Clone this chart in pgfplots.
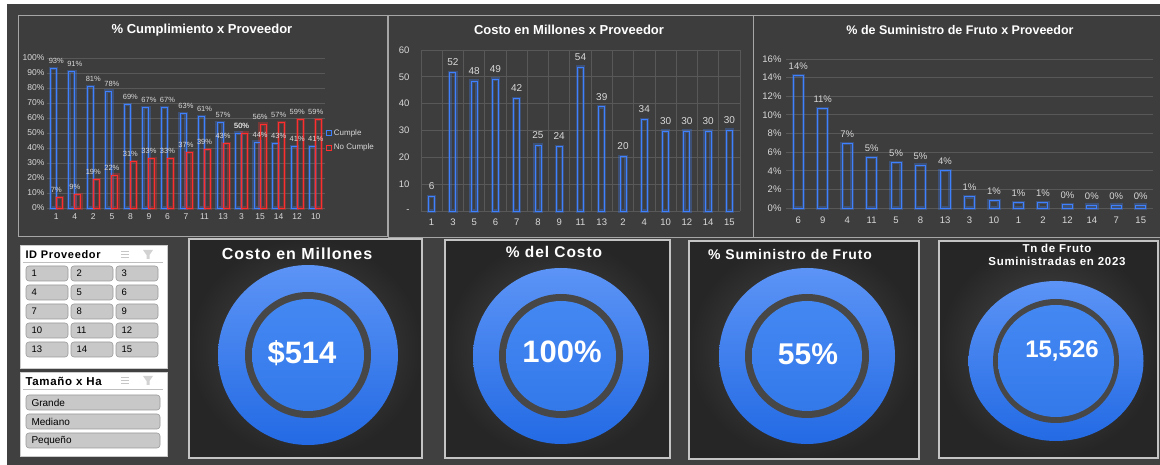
\documentclass[border=0pt]{standalone}
\usepackage{fontspec}
\setmainfont{Liberation Sans}
\newfontfamily\spaced[LetterSpace=6]{Liberation Sans}
\usepackage{pgfplots}
\usepackage{pgfplotstable}
\pgfplotsset{compat=1.18}

\definecolor{bgdark}{HTML}{404040}
\definecolor{panel}{HTML}{3D3D3D}
\definecolor{panelline}{HTML}{A6A6A6}
\definecolor{gridc}{HTML}{585858}
\definecolor{tickc}{HTML}{D9D9D9}
\definecolor{barblue}{HTML}{3F80FF}
\definecolor{barred}{HTML}{FF2E2E}
\definecolor{cardin}{HTML}{4E4E4E}
\definecolor{cardout}{HTML}{262626}
\definecolor{cardline}{HTML}{C4C4C4}
\definecolor{donuttop}{HTML}{5C94F6}
\definecolor{donutbot}{HTML}{236AE4}
\definecolor{ringdark}{HTML}{474747}
\definecolor{innertop}{HTML}{4388F2}
\definecolor{innerbot}{HTML}{3479EA}
\definecolor{btn}{HTML}{C8C8C8}
\definecolor{btnline}{HTML}{9A9A9A}

\newcommand\fs[1]{\fontsize{#1}{#1}\selectfont}

% chart 1: % cumple / no cumple
\pgfplotstableread{
idx prov cumple nocumple
0 1 93 7
1 4 91 9
2 2 81 19
3 5 78 22
4 8 69 31
5 9 67 33
6 6 67 33
7 7 63 37
8 11 61 39
9 13 57 43
10 3 50 50
11 15 44 56
12 14 43 57
13 12 41 59
14 10 41 59
}\tblcump

% chart 2: costo en millones
\pgfplotstableread{
idx prov costo
0 1 5.5
1 3 51.6
2 5 48.4
3 6 49.2
4 7 42.0
5 8 24.6
6 9 24.1
7 11 53.6
8 13 38.8
9 2 20.3
10 4 34.2
11 10 29.8
12 12 29.8
13 14 29.8
14 15 30.2
}\tblcosto

% chart 3: % suministro de fruto
\pgfplotstableread{
idx prov sumin
0 6 14.2
1 9 10.7
2 4 6.9
3 11 5.4
4 5 4.9
5 8 4.6
6 13 4.0
7 3 1.2
8 10 0.8
9 1 0.6
10 2 0.6
11 12 0.4
12 14 0.3
13 7 0.3
14 15 0.3
}\tblsumin

\pgfplotsset{
  dashax/.style={
    scale only axis, anchor=south west, clip=false,
    axis line style={draw=none}, major tick length=0pt, minor tick length=0pt,
    ymajorgrids, grid style={gridc, line width=0.8pt},
    ticklabel style={text=tickc},
    /pgf/number format/assume math mode=true,
    xmin=-0.5, xmax=14.5, ymin=0, xtick={0,...,14},
  },
  glow/.style={ybar, fill=none, draw=#1, line width=3.4pt, draw opacity=0.3, forget plot},
  sqlegend/.style={legend image code/.code={\draw[##1, line width=0.7pt] (0pt,-2.5pt) rectangle (5pt,2.5pt);}},
}

\begin{document}
\begin{tikzpicture}[x=1pt,y=1pt]
\useasboundingbox (0,0) rectangle (1160,465);
\fill[white] (0,0) rectangle (1160,465);
\fill[bgdark] (7,0) rectangle (1160,461);

% chart panels
\filldraw[fill=panel, draw=panelline, line width=0.8pt] (18,229) rectangle (387,450);
\filldraw[fill=panel, draw=panelline, line width=0.8pt] (388,228) rectangle (753,450);
\filldraw[fill=panel, draw=panelline, line width=0.8pt] (753,228) rectangle (1166,450);
\node[text=white, font=\bfseries\fs{13}] at (202,435) {\% Cumplimiento x Proveedor};
\node[text=white, font=\bfseries\fs{13}] at (569,435) {Costo en Millones x Proveedor};
\node[text=white, font=\bfseries\fs{12.5}] at (960,435) {\% de Suministro de Fruto x Proveedor};

% chart 1
\begin{axis}[dashax, at={(47pt,257pt)}, width=278pt, height=150pt,
  ymax=100, ytick={0,10,...,100}, yticklabel={\pgfmathprintnumber{\tick}\%},
  xticklabels from table={\tblcump}{prov},
  ticklabel style={font=\fs{8.5}},
  xticklabel style={yshift=-2pt}, yticklabel style={xshift=1pt},
  legend style={at={(rel axis cs:1.0,0.45)}, anchor=west, draw=none, fill=none,
    font=\fs{8}, text=tickc, row sep=3pt, inner sep=1pt},
  legend cell align=left]
\addplot[glow=barblue, bar width=6pt, bar shift=-3pt] table[x=idx,y=cumple]{\tblcump};
\addplot[glow=barred, bar width=6pt, bar shift=3pt] table[x=idx,y=nocumple]{\tblcump};
\addplot[ybar, bar width=6pt, bar shift=-3pt, fill=none, draw=barblue, line width=0.9pt, sqlegend,
  nodes near coords={\pgfmathprintnumber[fixed,precision=0]{\pgfplotspointmeta}\%},
  every node near coord/.append style={font=\fs{7.5}, text=tickc, yshift=1pt}]
  table[x=idx,y=cumple]{\tblcump};
\addlegendentry{Cumple}
\addplot[ybar, bar width=6pt, bar shift=3pt, fill=none, draw=barred, line width=0.9pt, sqlegend,
  nodes near coords={\pgfmathprintnumber[fixed,precision=0]{\pgfplotspointmeta}\%},
  every node near coord/.append style={font=\fs{7.5}, text=tickc, yshift=1pt}]
  table[x=idx,y=nocumple]{\tblcump};
\addlegendentry{No Cumple}
\end{axis}

% chart 2
\begin{axis}[dashax, at={(421pt,254pt)}, width=319pt, height=161pt,
  ymax=60, ytick={0,10,...,60}, yticklabels={-,10,20,30,40,50,60},
  xticklabels from table={\tblcosto}{prov},
  minor xtick={-0.5,0.5,...,14.5}, xminorgrids, minor grid style={gridc, line width=0.8pt},
  ticklabel style={font=\fs{9.5}},
  xticklabel style={yshift=-4pt}, yticklabel style={xshift=-8pt}]
\addplot[glow=barblue, bar width=6pt] table[x=idx,y=costo]{\tblcosto};
\addplot[ybar, bar width=6pt, fill=none, draw=barblue, line width=0.9pt,
  nodes near coords={\pgfmathprintnumber[fixed,precision=0]{\pgfplotspointmeta}},
  every node near coord/.append style={font=\fs{10}, text=tickc, yshift=3pt}]
  table[x=idx,y=costo]{\tblcosto};
\end{axis}

% chart 3
\begin{axis}[dashax, at={(786pt,257pt)}, width=367pt, height=149pt,
  ymax=16, ytick={0,2,...,16}, yticklabel={\pgfmathprintnumber{\tick}\%},
  xticklabels from table={\tblsumin}{prov},
  ticklabel style={font=\fs{9.5}},
  xticklabel style={yshift=-5pt}, yticklabel style={xshift=-1pt}]
\addplot[glow=barblue, bar width=10pt] table[x=idx,y=sumin]{\tblsumin};
\addplot[ybar, bar width=10pt, fill=none, draw=barblue, line width=0.9pt,
  nodes near coords={\pgfmathprintnumber[fixed,precision=0]{\pgfplotspointmeta}\%},
  every node near coord/.append style={font=\fs{9.5}, text=tickc, yshift=2pt}]
  table[x=idx,y=sumin]{\tblsumin};
\end{axis}

% slicer: ID Proveedor
\filldraw[fill=white, draw=gray!40] (20,97) rectangle (167,220);
\node[anchor=west, font=\spaced\bfseries\fs{11}] at (22,210) {ID Proveedor};
\draw[gray!50, line width=0.8pt] (23,203) -- (163,203);
\foreach \r in {0,...,4} {
  \foreach \c in {0,1,2} {
    \pgfmathsetmacro\xl{26+45*\c}
    \pgfmathsetmacro\yt{199-19*\r}
    \pgfmathtruncatemacro\n{3*\r+\c+1}
    \draw[rounded corners=3pt, fill=btn, draw=btnline, line width=0.6pt] (\xl,\yt) rectangle ++(42,-15);
    \node[anchor=west, font=\fs{9.5}] at (\xl+2,\yt-7.5) {\n};
  }
}
% icons
\foreach \k in {0,1,2} {\draw[gray!45, line width=0.7pt] (121,214-3*\k) -- (129,214-3*\k);}
\fill[gray!35] (143,215) -- (153,215) -- (149.5,210) -- (149.5,206) -- (146.5,206) -- (146.5,210) -- cycle;

% slicer: Tamano x Ha
\filldraw[fill=white, draw=gray!40] (20,9) rectangle (167,93);
\node[anchor=west, font=\spaced\bfseries\fs{11.5}] at (22,84) {Tamaño x Ha};
\draw[gray!50, line width=0.8pt] (23,76) -- (163,76);
\foreach \k in {0,1,2} {\draw[gray!45, line width=0.7pt] (121,88-3*\k) -- (129,88-3*\k);}
\fill[gray!35] (143,89) -- (153,89) -- (149.5,84) -- (149.5,80) -- (146.5,80) -- (146.5,84) -- cycle;
\foreach \t [count=\i from 0] in {Grande,Mediano,Pequeño} {
  \pgfmathsetmacro\yt{70-19*\i}
  \draw[rounded corners=3pt, fill=btn, draw=btnline, line width=0.6pt] (26,\yt) rectangle (160,\yt-15);
  \node[anchor=west, font=\fs{10}] at (28,\yt-7.5) {\t};
}

% KPI cards
\shade[inner color=cardin, outer color=cardout] (189,7) rectangle (422,226);
\draw[cardline, line width=1.2pt] (189,7) rectangle (422,226);
\shade[inner color=cardin, outer color=cardout] (445,7) rectangle (670,225);
\draw[cardline, line width=1.2pt] (445,7) rectangle (670,225);
\shade[inner color=cardin, outer color=cardout] (689,6) rectangle (919,224);
\draw[cardline, line width=1.2pt] (689,6) rectangle (919,224);
\shade[inner color=cardin, outer color=cardout] (939,7) rectangle (1158,224);
\draw[cardline, line width=1.2pt] (939,7) rectangle (1158,224);

% donuts
\shade[top color=donuttop, bottom color=donutbot] (308,110) circle (90pt);
\fill[ringdark] (308,110) circle (63pt);
\shade[top color=innertop, bottom color=innerbot] (308,110) circle (56pt);
\shade[top color=donuttop, bottom color=donutbot] (561,109) circle (88pt);
\fill[ringdark] (561,109) circle (62pt);
\shade[top color=innertop, bottom color=innerbot] (561,109) circle (55pt);
\shade[top color=donuttop, bottom color=donutbot] (807,109) circle (88pt);
\fill[ringdark] (807,109) circle (62pt);
\shade[top color=innertop, bottom color=innerbot] (807,109) circle (55pt);
\shade[top color=donuttop, bottom color=donutbot] (1056,104) ellipse (87.5pt and 80pt);
\fill[ringdark] (1056,104) ellipse (63pt and 62pt);
\shade[top color=innertop, bottom color=innerbot] (1056,104) ellipse (58pt and 56pt);

% card texts
\node[text=white, font=\spaced\bfseries\fs{16}] at (297,211) {Costo en Millones};
\node[text=white, font=\spaced\bfseries\fs{15.5}] at (554,213) {\% del Costo};
\node[text=white, font=\spaced\bfseries\fs{14}] at (790,210) {\% Suministro de Fruto};
\node[text=white, font=\spaced\bfseries\fs{11.5}, align=center] at (1057,210) {Tn de Fruto\\[1pt]Suministradas en 2023};
\node[text=white, font=\bfseries\fs{31}] at (302,112) {\$514};
\node[text=white, font=\bfseries\fs{31}] at (562,113) {100\%};
\node[text=white, font=\bfseries\fs{30}] at (808,111) {55\%};
\node[text=white, font=\bfseries\fs{24}] at (1062,114) {15,526};
\end{tikzpicture}
\end{document}
